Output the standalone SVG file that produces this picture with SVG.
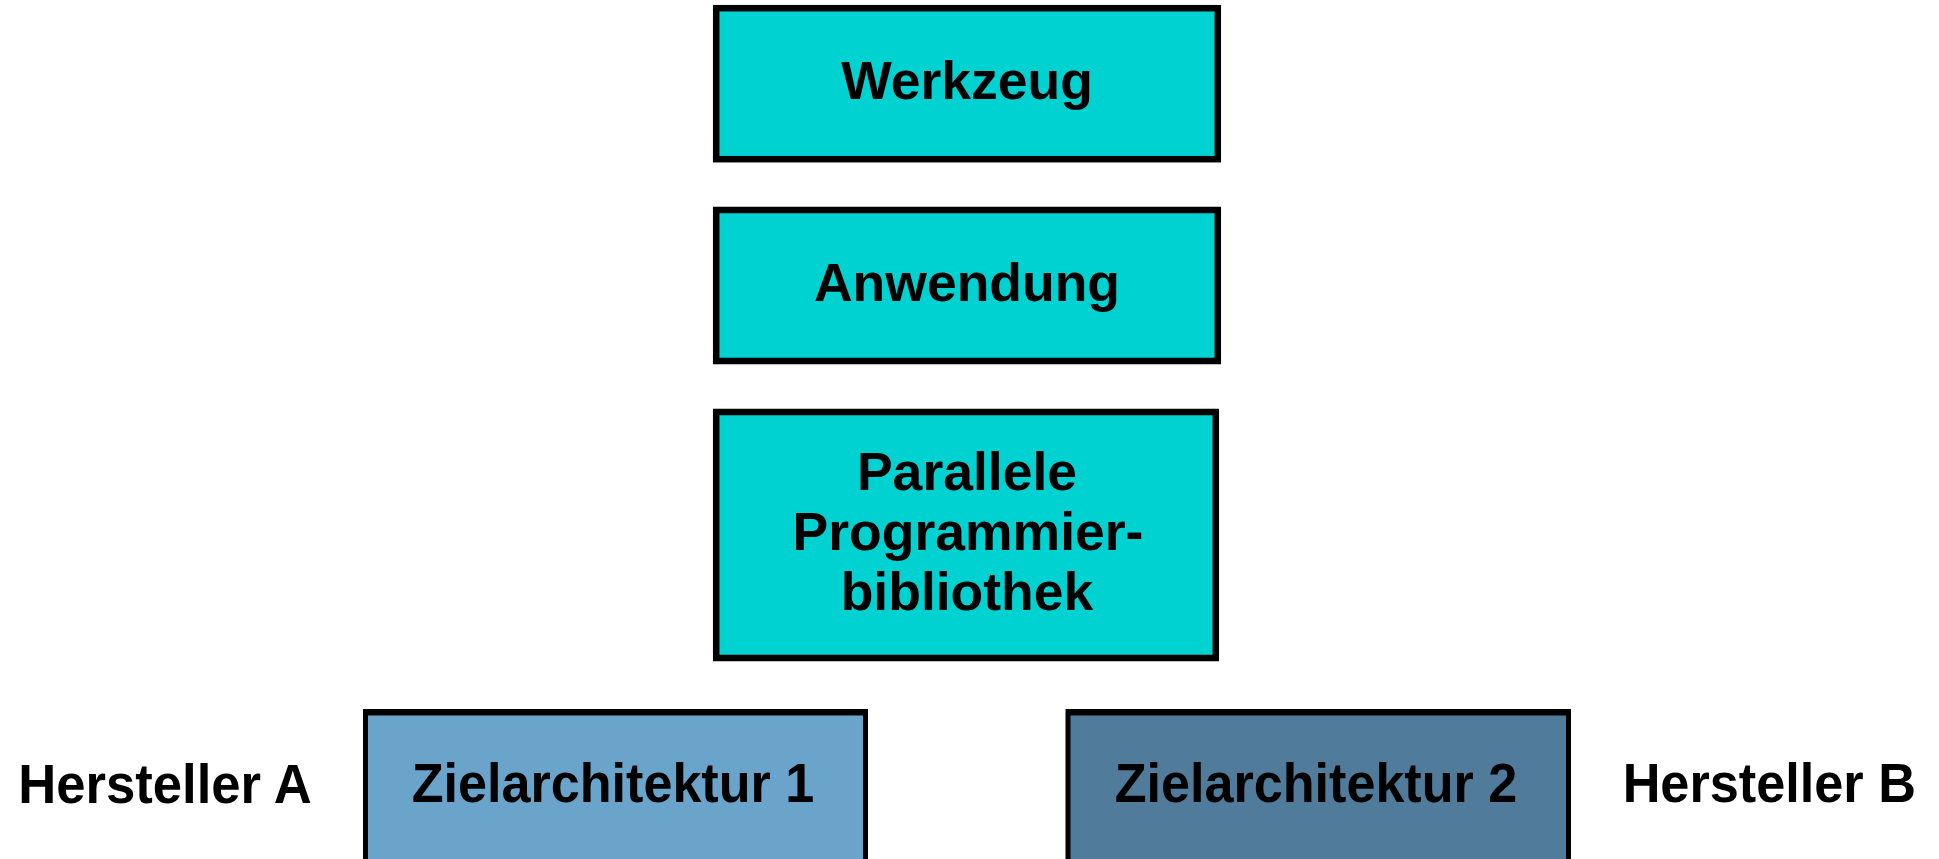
<svg xmlns="http://www.w3.org/2000/svg" width="1939" height="859" viewBox="0 0 1939 859">
  <style>
    .box { stroke: #000; stroke-width: 6.5; }
    .cyan { fill: #00d2d2; }
    .t { font-family: "Liberation Sans", Arial, sans-serif; font-weight: bold; fill: #000; text-anchor: middle; }
    .top { font-size: 53.5px; }
    .low { font-size: 55px; }
  </style>
  <rect width="1939" height="859" fill="#fff"/>
  <g id="connectors"/>
  <g id="werkzeug">
    <rect class="box cyan" x="716.2" y="8.2" width="501.6" height="151"/>
    <text class="t top" x="967" y="99">Werkzeug</text>
  </g>
  <g id="anwendung">
    <rect class="box cyan" x="716.2" y="210" width="501.6" height="151"/>
    <text class="t top" x="967" y="301">Anwendung</text>
  </g>
  <g id="bibliothek">
    <rect class="box cyan" x="716.2" y="412" width="499.6" height="246"/>
    <text class="t top" x="967" y="490">Parallele</text>
    <text class="t top" x="968" y="550">Programmier-</text>
    <text class="t top" x="967" y="609.5">bibliothek</text>
  </g>
  <g id="ziel1">
    <rect x="363" y="709" width="505" height="160" fill="#000"/>
    <rect x="368" y="715.5" width="495" height="160" fill="#6ba4cb"/>
    <text class="t low" x="613" y="802.3" textLength="402.7" lengthAdjust="spacingAndGlyphs">Zielarchitektur 1</text>
  </g>
  <g id="ziel2">
    <rect x="1065.5" y="709" width="505.5" height="160" fill="#000"/>
    <rect x="1070.5" y="715.5" width="495.5" height="160" fill="#507b9a"/>
    <text class="t low" x="1316" y="802.3" textLength="402.7" lengthAdjust="spacingAndGlyphs">Zielarchitektur 2</text>
  </g>
  <g id="hersteller-a">
    <text class="t low" x="165" y="802.7" textLength="293.4" lengthAdjust="spacingAndGlyphs">Hersteller A</text>
  </g>
  <g id="hersteller-b">
    <text class="t low" x="1769.3" y="802.3" textLength="293.3" lengthAdjust="spacingAndGlyphs">Hersteller B</text>
  </g>
</svg>
